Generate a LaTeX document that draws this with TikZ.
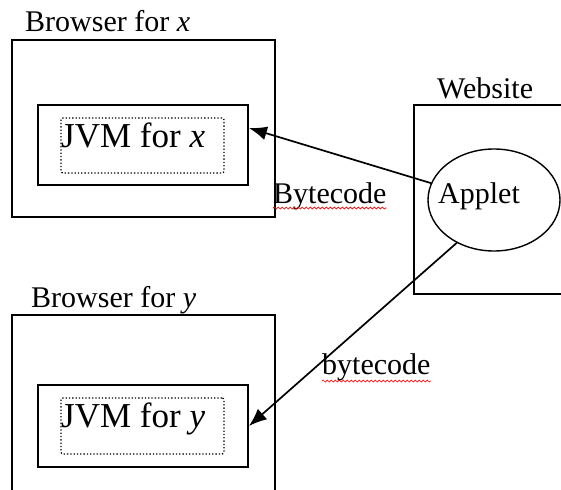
\documentclass[tikz,border=0pt]{standalone}
\usepackage{fontspec}
\setmainfont{Liberation Serif}
\usetikzlibrary{shapes.geometric, arrows.meta, positioning, calc, decorations.pathmorphing}

\tikzset{
  boxout/.style={draw, line width=1.8pt, inner sep=0pt},
  boxdot/.style={draw, dotted, line width=1.3pt, rounded corners=2pt, inner sep=0pt},
  lbl/.style={inner sep=0pt, anchor=base west, font=\fontsize{30}{36}\selectfont},
  jvmlbl/.style={inner sep=0pt, anchor=base west, font=\fontsize{35}{42}\selectfont},
  flow/.style={-{Latex[length=18pt,width=14pt]}, line width=1.7pt},
  spell/.style={red, line width=0.7pt, decorate, decoration={snake, amplitude=1pt, segment length=4pt}}
}

\begin{document}
\begin{tikzpicture}[x=1pt, y=-1pt]
  \useasboundingbox (0,0) rectangle (561,489);
  \clip (0,0) rectangle (561,489);
  % browser for x
  \node[lbl] (bxlbl) at (25,32) {Browser for \textit{x}};
  \node[boxout, minimum width=263pt, minimum height=177pt] (bx) at (143.5,128.5) {};
  \node[boxout, minimum width=210pt, minimum height=80pt] (jx) at (143,145) {};
  \node[boxdot, minimum width=163pt, minimum height=55pt] (dx) at (142.5,145.5) {};
  \node[jvmlbl] (jxlbl) at (61,147) {JVM for \textit{x}};
  % browser for y
  \node[lbl] (bylbl) at (31,307) {Browser for \textit{y}};
  \node[boxout, minimum width=263pt, minimum height=205pt] (by) at (143.5,417.5) {};
  \node[boxout, minimum width=210pt, minimum height=82pt] (jy) at (143,426) {};
  \node[boxdot, minimum width=163pt, minimum height=56pt] (dy) at (142.5,426) {};
  \node[jvmlbl] (jylbl) at (61,427) {JVM for \textit{y}};
  % website
  \node[lbl] (wslbl) at (437,99) {Website};
  \node[boxout, minimum width=186pt, minimum height=189pt] (ws) at (507,199.5) {};
  \node[draw, ellipse, line width=1.4pt, minimum width=132pt, minimum height=102pt, inner sep=0pt] (applet) at (494,200) {};
  \node[lbl] (appletlbl) at (438,203) {Applet};
  % bytecode
  \draw[flow] (applet.165) -- ($(jx.east)+(0,-17)$);
  \draw[flow] (applet.229) -- (jy.east);
  \node[lbl] (bcx) at (273,203) {Bytecode};
  \node[lbl] (bcy) at (322,374) {bytecode};
  \draw[spell] ($(bcx.base west)+(0,5)$) -- ($(bcx.base east)+(0,5)$);
  \draw[spell] ($(bcy.base west)+(0,7)$) -- ($(bcy.base east)+(0,7)$);
\end{tikzpicture}
\end{document}
